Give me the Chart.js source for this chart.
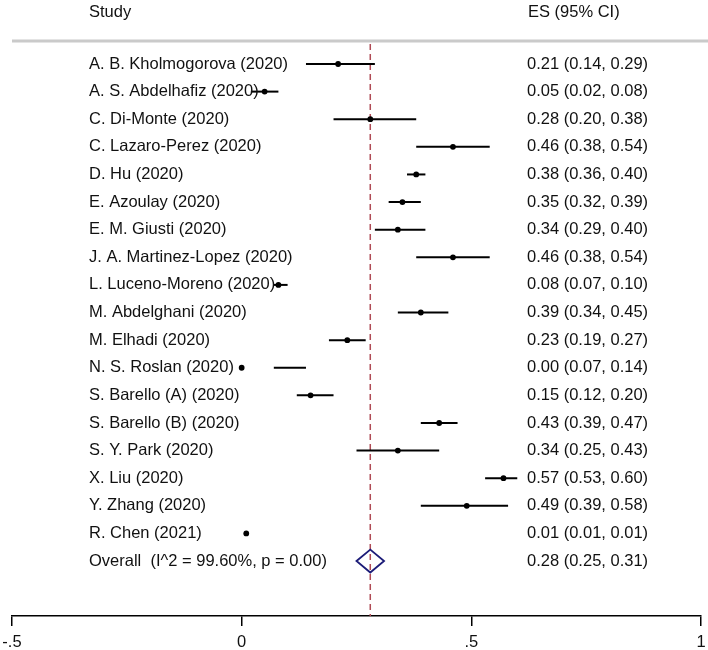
<!DOCTYPE html>
<html>
<head>
<meta charset="utf-8">
<script src="https://cdn.jsdelivr.net/npm/chart.js@4/dist/chart.umd.min.js"></script>
<style>
  html, body { margin: 0; padding: 0; background: #ffffff; }
  #wrap { width: 708px; height: 650px; }
</style>
</head>
<body>
<div id="wrap"><canvas id="c" width="708" height="650"></canvas></div>
<script>
// ---- data ----
const studies = [
  'A. B. Kholmogorova (2020)', 'A. S. Abdelhafiz (2020)', 'C. Di-Monte (2020)',
  'C. Lazaro-Perez (2020)', 'D. Hu (2020)', 'E. Azoulay (2020)', 'E. M. Giusti (2020)',
  'J. A. Martinez-Lopez (2020)', 'L. Luceno-Moreno (2020)', 'M. Abdelghani (2020)',
  'M. Elhadi (2020)', 'N. S. Roslan (2020)', 'S. Barello (A) (2020)', 'S. Barello (B) (2020)',
  'S. Y. Park (2020)', 'X. Liu (2020)', 'Y. Zhang (2020)', 'R. Chen (2021)'
];
const es = [0.21, 0.05, 0.28, 0.46, 0.38, 0.35, 0.34, 0.46, 0.08, 0.39, 0.23, 0.00, 0.15, 0.43, 0.34, 0.57, 0.49, 0.01];
const ciLow = [0.14, 0.02, 0.20, 0.38, 0.36, 0.32, 0.29, 0.38, 0.07, 0.34, 0.19, 0.07, 0.12, 0.39, 0.25, 0.53, 0.39, 0.01];
const ciHigh = [0.29, 0.08, 0.38, 0.54, 0.40, 0.39, 0.40, 0.54, 0.10, 0.45, 0.27, 0.14, 0.20, 0.47, 0.43, 0.60, 0.58, 0.01];
const overallLabel = 'Overall  (I^2 = 99.60%, p = 0.00)';
const overallES = 0.28;
const overallLow = 0.25;
const overallHigh = 0.31;
const headerStudy = 'Study';
const headerES = 'ES (95% CI)';
const tickValues = [-0.5, 0, 0.5, 1];
const tickLabels = ['-.5', '0', '.5', '1'];

// ---- styling ----
const FONT = '"Liberation Sans", Arial, sans-serif';
const FS = 16.5;
const TEXT = '#111111';
const overallRow = studies.length;

function fmt(v) { return v.toFixed(2); }

const datasets = [];
studies.forEach((s, i) => {
  if (ciHigh[i] > ciLow[i]) {
    datasets.push({
      type: 'line',
      data: [{x: ciLow[i], y: i}, {x: ciHigh[i], y: i}],
      borderColor: '#000000',
      borderWidth: 2,
      pointRadius: 0,
      fill: false
    });
  }
});
datasets.push({
  type: 'scatter',
  data: es.map((v, i) => ({x: v, y: i})),
  backgroundColor: '#000000',
  borderWidth: 0,
  pointRadius: 2.9
});

const forestPlugin = {
  id: 'forest',
  beforeDatasetsDraw(chart) {
    const {ctx, chartArea, scales} = chart;
    const x = scales.x.getPixelForValue(overallES);
    ctx.save();
    ctx.strokeStyle = '#b04a55';
    ctx.lineWidth = 1.5;
    ctx.setLineDash([6, 4]);
    ctx.beginPath();
    ctx.moveTo(x, chartArea.top);
    ctx.lineTo(x, chartArea.bottom);
    ctx.stroke();
    ctx.restore();
  },
  afterDatasetsDraw(chart) {
    const {ctx, scales} = chart;
    const xs = scales.x, ys = scales.y;
    const yc = ys.getPixelForValue(overallRow);
    const xl = xs.getPixelForValue(overallLow);
    const xm = xs.getPixelForValue(overallES);
    const xr = xs.getPixelForValue(overallHigh);
    const hh = 11.5;
    ctx.save();
    ctx.strokeStyle = '#1c1c78';
    ctx.lineWidth = 1.8;
    ctx.beginPath();
    ctx.moveTo(xl, yc);
    ctx.lineTo(xm, yc - hh);
    ctx.lineTo(xr, yc);
    ctx.lineTo(xm, yc + hh);
    ctx.closePath();
    ctx.stroke();
    ctx.restore();
  },
  afterDraw(chart) {
    const {ctx, scales} = chart;
    const ys = scales.y;
    ctx.save();
    // header separator
    ctx.strokeStyle = '#cacaca';
    ctx.lineWidth = 3;
    ctx.beginPath();
    ctx.moveTo(12, 41);
    ctx.lineTo(708, 41);
    ctx.stroke();
    ctx.fillStyle = TEXT;
    ctx.font = FS + 'px ' + FONT;
    ctx.textBaseline = 'middle';
    ctx.textAlign = 'left';
    ctx.fillText(headerStudy, 89, 12);
    ctx.fillText(headerES, 528, 12);
    studies.forEach((s, i) => {
      const y = ys.getPixelForValue(i);
      ctx.fillText(s, 89, y);
      ctx.fillText(fmt(es[i]) + ' (' + fmt(ciLow[i]) + ', ' + fmt(ciHigh[i]) + ')', 527, y);
    });
    const yo = ys.getPixelForValue(overallRow);
    ctx.fillText(overallLabel, 89, yo);
    ctx.fillText(fmt(overallES) + ' (' + fmt(overallLow) + ', ' + fmt(overallHigh) + ')', 527, yo);
    ctx.restore();
  }
};

new Chart(document.getElementById('c'), {
  type: 'scatter',
  data: { datasets },
  plugins: [forestPlugin],
  options: {
    responsive: false,
    devicePixelRatio: 1,
    animation: false,
    layout: { padding: { top: 44, left: 12, right: 7, bottom: 0 } },
    plugins: { legend: { display: false }, tooltip: { enabled: false } },
    scales: {
      x: {
        type: 'linear',
        min: -0.5,
        max: 1,
        afterBuildTicks(scale) { scale.ticks = tickValues.map(v => ({value: v})); },
        afterFit(scale) { scale.height = 34; scale.paddingLeft = 0; scale.paddingRight = 0; },
        ticks: {
          callback: (v) => { const k = tickValues.indexOf(v); return k >= 0 ? tickLabels[k] : ''; },
          color: TEXT,
          font: { family: FONT, size: FS },
          padding: 7,
          maxRotation: 0,
          autoSkip: false
        },
        grid: { drawOnChartArea: false, drawTicks: true, tickLength: 10, color: '#000000', lineWidth: 1.5 },
        border: { display: true, color: '#000000', width: 1.5 }
      },
      y: {
        type: 'linear',
        reverse: true,
        min: -0.724,
        max: 19.99,
        display: false
      }
    }
  }
});
</script>
</body>
</html>
